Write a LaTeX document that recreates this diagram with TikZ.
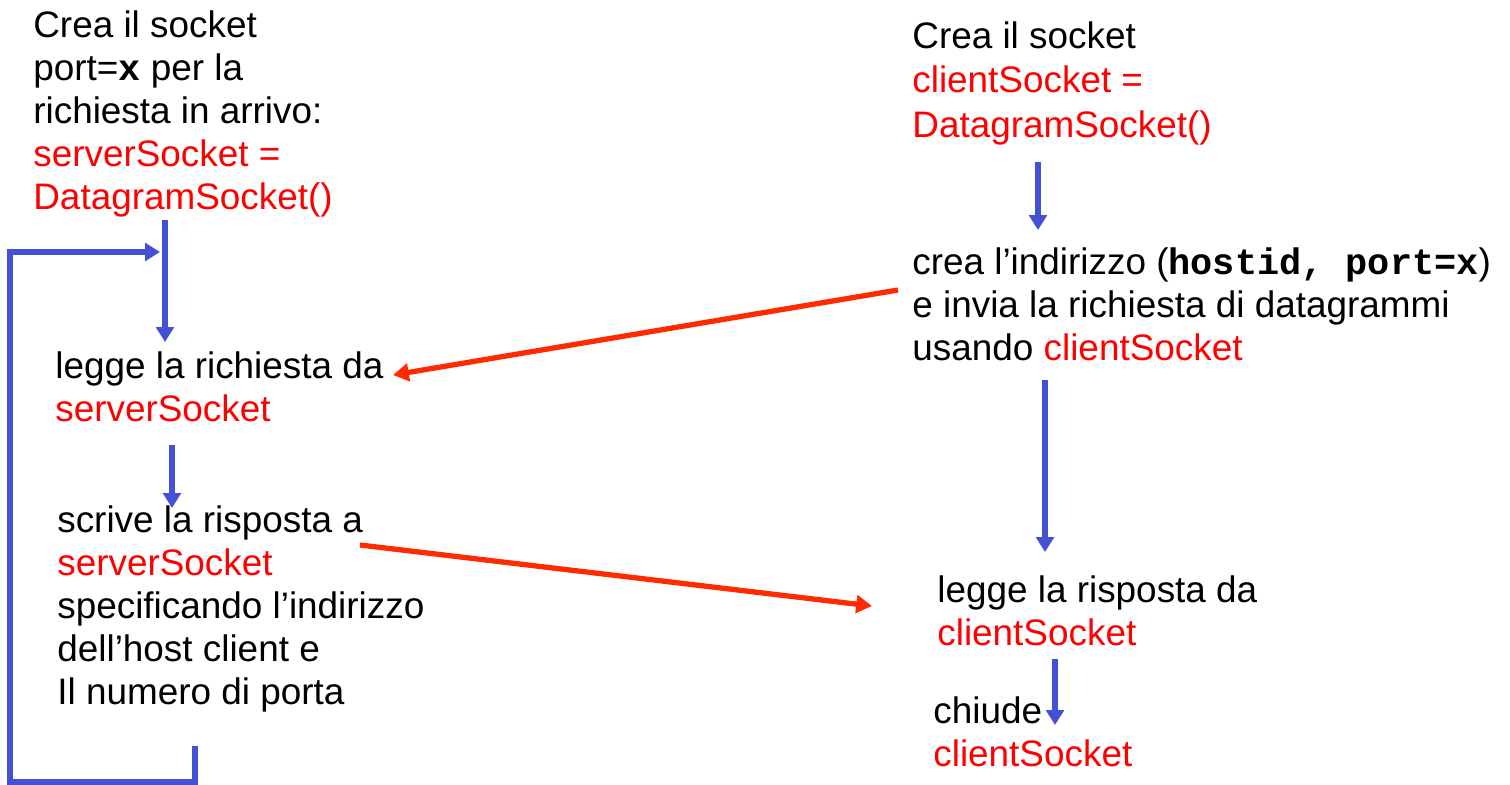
\documentclass[tikz,border=0pt]{standalone}
\usepackage{fontspec}
\setmainfont{Liberation Sans}
\setmonofont{Liberation Mono}
\usepackage{xcolor}
\usepackage{tikz}
\usetikzlibrary{calc}
\usetikzlibrary{arrows.meta}
\definecolor{flowblue}{RGB}{68,80,214}
\definecolor{msgred}{RGB}{255,42,0}
\definecolor{sockred}{RGB}{255,0,0}
\newcommand{\sock}[1]{\textcolor{sockred}{#1}}
\newcommand{\code}[1]{\texttt{\textbf{#1}}}
\tikzstyle{txtblock} = [anchor=north west, inner sep=0pt, align=left,
font=\fontsize{21pt}{24.5pt}\selectfont]
\tikzstyle{flowarrow} = [draw=flowblue, line width=2.9pt,
-{Triangle[width=10pt,length=8.5pt]}]
\tikzstyle{msgarrow} = [draw=msgred, line width=3pt,
-{Triangle[width=10pt,length=9pt]}]

\begin{document}
\begin{tikzpicture}[x=0.02cm, y=-0.02cm]
        \useasboundingbox (0,0) rectangle (1510,784);
        % server side
        \node [txtblock] (srvcreate) at (33,10) {Crea il socket\\ port=\code{x} per la\\ richiesta in arrivo:\\ \sock{serverSocket =}\\ \sock{DatagramSocket()}};
        \node [txtblock] (srvread) at (55,351) {legge la richiesta da\\ \sock{serverSocket}};
        \node [txtblock] (srvwrite) at (57,505) {scrive la risposta a\\ \sock{serverSocket}\\ specificando l’indirizzo\\ dell’host client e\\ Il numero di porta};
        % client side
        \node [txtblock, font=\fontsize{21pt}{25.5pt}\selectfont] (clicreate) at (912,21) {Crea il socket\\ \sock{clientSocket =}\\ \sock{DatagramSocket()}};
        \node [txtblock] (clisend) at (912,247) {crea l’indirizzo (\code{hostid, port=x})\\ e invia la richiesta di datagrammi\\ usando \sock{clientSocket}};
        \node [txtblock] (cliread) at (937,575) {legge la risposta da\\ \sock{clientSocket}};
        \node [txtblock] (cliclose) at (933,696) {chiude\\ \sock{clientSocket}};
        % flow
        \draw [flowarrow] ($(srvcreate.south west)+(132,3)$) -- ($(srvread.north west)+(110,-9)$);
        \draw [flowarrow] ($(srvread.south west)+(117,23)$) -- ($(srvwrite.north west)+(115,3)$);
        \coordinate (loopout) at ($(srvwrite.south west)+(138,34)$);
        \coordinate (loopin) at (160,252);
        \draw [flowarrow] (loopout) |- (10,782) |- (loopin);
        \draw [flowarrow] ($(clicreate.south west)+(126,16)$) -- ($(clisend.north west)+(126,-17)$);
        \draw [flowarrow] ($(clisend.south west)+(133,19)$) -- ($(cliread.north west)+(108,-23)$);
        \draw [flowarrow] ($(cliread.south west)+(118,13)$) -- ($(cliclose.north west)+(122,29)$);
        % datagrams
        \draw [msgarrow] ($(clisend.north west)+(-14,43)$) -- ($(srvread.north west)+(338,24)$);
        \draw [msgarrow] ($(srvwrite.north west)+(303,40)$) -- ($(cliread.north west)+(-65,31)$);
    \end{tikzpicture}
\end{document}
